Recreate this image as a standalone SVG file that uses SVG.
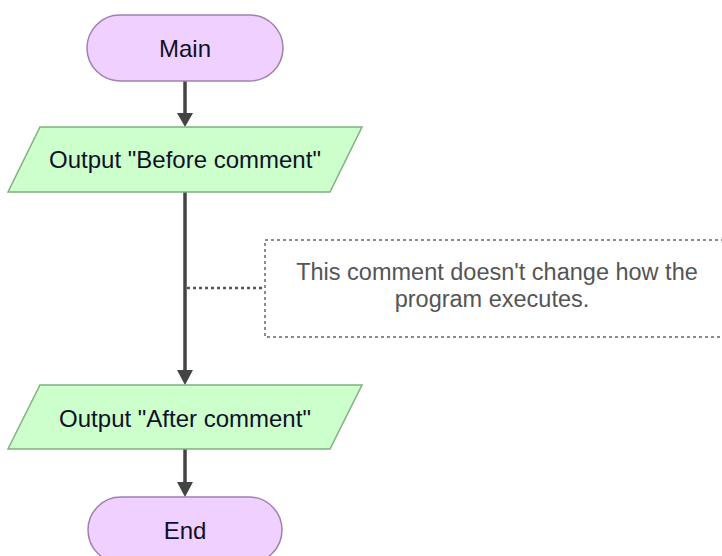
<svg xmlns="http://www.w3.org/2000/svg" width="722" height="556" viewBox="0 0 722 556">
  <defs>
    <style>
      .term { fill: #f0d0ff; stroke: #a080b0; stroke-width: 1.5; }
      .io { fill: #ccffcc; stroke: #80b080; stroke-width: 1.5; }
      .lbl { font-family: "Liberation Sans", Arial, sans-serif; font-size: 24px; fill: #101028; text-anchor: middle; }
      .cmt { font-family: "Liberation Sans", Arial, sans-serif; font-size: 23.5px; fill: #555555; text-anchor: middle; }
      .flow { stroke: #444444; stroke-width: 3.5; fill: none; }
      .head { fill: #444444; }
      .dot { stroke: #555555; stroke-width: 2.5; stroke-dasharray: 3 3; fill: none; }
      .cbox { fill: #ffffff; stroke: #666666; stroke-width: 1.5; stroke-dasharray: 3 3; }
    </style>
  </defs>

  <g id="connectors">
    <line class="flow" x1="185" y1="81" x2="185" y2="113"/>
    <path class="head" d="M177,113 L193,113 L185,127 Z"/>
    <line class="flow" x1="185" y1="192" x2="185" y2="371"/>
    <path class="head" d="M177,370 L193,370 L185,385 Z"/>
    <line class="flow" x1="185" y1="449" x2="185" y2="483"/>
    <path class="head" d="M177,482 L193,482 L185,497 Z"/>
    <line class="dot" x1="187" y1="288" x2="265" y2="288"/>
  </g>

  <g id="main">
    <rect class="term" x="87" y="15" width="196" height="66" rx="33" ry="33"/>
    <text class="lbl" x="185" y="57">Main</text>
  </g>

  <g id="out1">
    <polygon class="io" points="40,127 362,127 330,192 8,192"/>
    <text class="lbl" x="185" y="168">Output "Before comment"</text>
  </g>

  <g id="comment">
    <rect class="cbox" x="265" y="240" width="470" height="97"/>
    <text class="cmt" x="497" y="280">This comment doesn't change how the</text>
    <text class="cmt" x="492" y="307">program executes.</text>
  </g>

  <g id="out2">
    <polygon class="io" points="40,385 362,385 330,449 8,449"/>
    <text class="lbl" x="185" y="427">Output "After comment"</text>
  </g>

  <g id="end">
    <rect class="term" x="88" y="497" width="194" height="66" rx="33" ry="33"/>
    <text class="lbl" x="185" y="539">End</text>
  </g>
</svg>
